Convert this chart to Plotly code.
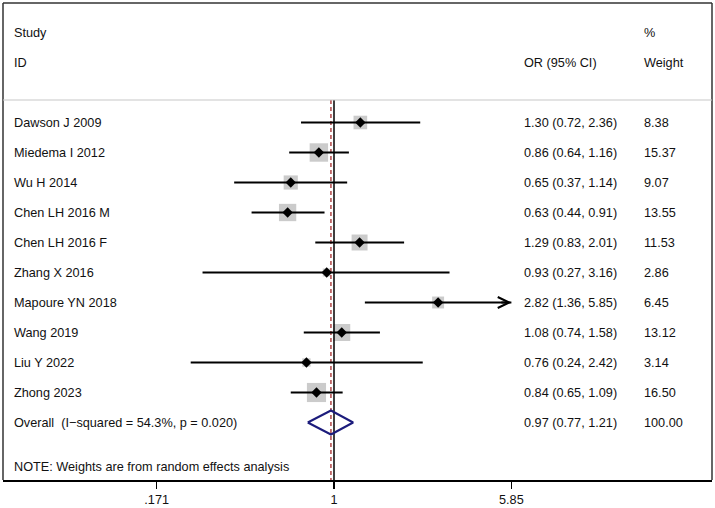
import math
import plotly.graph_objects as go

studies = ["Dawson J 2009", "Miedema I 2012", "Wu H 2014", "Chen LH 2016 M",
           "Chen LH 2016 F", "Zhang X 2016", "Mapoure YN 2018", "Wang 2019",
           "Liu Y 2022", "Zhong 2023"]
or_est = [1.30, 0.86, 0.65, 0.63, 1.29, 0.93, 2.82, 1.08, 0.76, 0.84]
ci_lo = [0.72, 0.64, 0.37, 0.44, 0.83, 0.27, 1.36, 0.74, 0.24, 0.65]
ci_hi = [2.36, 1.16, 1.14, 0.91, 2.01, 3.16, 5.85, 1.58, 2.42, 1.09]
weights = [8.38, 15.37, 9.07, 13.55, 11.53, 2.86, 6.45, 13.12, 3.14, 16.50]
overall = (0.97, 0.77, 1.21)
overall_weight = "100.00"
overall_label = "Overall  (I\u2212squared = 54.3%, p = 0.020)"
note = "NOTE: Weights are from random effects analysis"
tick_vals = [0.171, 1, 5.85]
tick_text = [".171", "1", "5.85"]
axis_max = 5.85

W, H = 715, 508
L, R, T, B = 3, 3, 3, 28
px_per_dec = 231.2
null_px = 334
row0_px, row_h = 122.5, 30

x_lo = (L - null_px) / px_per_dec
x_hi = (W - R - null_px) / px_per_dec
y_top = (T - row0_px) / row_h
y_bot = (H - B - row0_px) / row_h

FONT = "Liberation Sans, Arial, Helvetica, sans-serif"
FS = 12.7
TXT = "#111111"

rows = list(range(len(studies)))
fig = go.Figure()

# weight boxes
fig.add_trace(go.Scatter(
    x=or_est, y=rows, mode="markers",
    marker=dict(symbol="square", size=[4.7 * math.sqrt(w) for w in weights],
                color="#b5b5b5", line=dict(width=0)),
    hoverinfo="skip", showlegend=False))

# null line and overall dashed line
sep_row = (100 - row0_px) / row_h
fig.add_trace(go.Scatter(x=[1, 1], y=[sep_row, y_bot], mode="lines",
                         line=dict(color="#000000", width=1.5),
                         hoverinfo="skip", showlegend=False))
fig.add_trace(go.Scatter(x=[overall[0], overall[0]], y=[sep_row, y_bot], mode="lines",
                         line=dict(color="#a52a2a", width=1.3, dash="4px,3px"),
                         hoverinfo="skip", showlegend=False))

# CI lines
cx, cy = [], []
for i in rows:
    cx += [ci_lo[i], min(ci_hi[i], axis_max), None]
    cy += [i, i, None]
fig.add_trace(go.Scatter(x=cx, y=cy, mode="lines",
                         line=dict(color="#000000", width=2),
                         hoverinfo="skip", showlegend=False))

# point estimates
fig.add_trace(go.Scatter(x=or_est, y=rows, mode="markers",
                         marker=dict(symbol="diamond", size=8, color="#000000"),
                         hoverinfo="skip", showlegend=False))

# overall diamond
orow = len(studies)
hd = 0.4
fig.add_trace(go.Scatter(
    x=[overall[1], overall[0], overall[2], overall[0], overall[1]],
    y=[orow, orow - hd, orow, orow + hd, orow],
    mode="lines", line=dict(color="#1c1c7c", width=2),
    fill="toself", fillcolor="rgba(255,255,255,0)",
    hoverinfo="skip", showlegend=False))

annotations = []

def txt(xpx, row, s):
    annotations.append(dict(x=(xpx - L) / (W - L - R), xref="paper", y=row, yref="y",
                            text=s, showarrow=False, xanchor="left", yanchor="middle",
                            font=dict(family=FONT, size=FS, color=TXT)))

txt(12, -3, "Study")
txt(12, -2, "ID")
txt(522, -2, "OR (95% CI)")
txt(642, -3, "%")
txt(642, -2, "Weight")
for i in rows:
    txt(12, i, studies[i])
    txt(522, i, f"{or_est[i]:.2f} ({ci_lo[i]:.2f}, {ci_hi[i]:.2f})")
    txt(642, i, f"{weights[i]:.2f}")
txt(12, orow, overall_label)
txt(522, orow, f"{overall[0]:.2f} ({overall[1]:.2f}, {overall[2]:.2f})")
txt(642, orow, overall_weight)
txt(12, orow + 1.47, note)

# arrow head for truncated CI
for i in rows:
    if ci_hi[i] >= axis_max:
        annotations.append(dict(
            x=math.log10(axis_max), y=i, xref="x", yref="y",
            ax=math.log10(axis_max) - 0.05, ay=i, axref="x", ayref="y",
            showarrow=True, arrowhead=5, arrowsize=1.1, arrowwidth=2,
            arrowcolor="#000000", text=""))

shapes = [
    dict(type="line", xref="paper", yref="paper", x0=0, x1=0, y0=0, y1=1,
         line=dict(color="#333333", width=1.5)),
    dict(type="line", xref="paper", yref="paper", x0=0, x1=1, y0=1, y1=1,
         line=dict(color="#333333", width=1.5)),
    dict(type="line", xref="paper", yref="paper", x0=1, x1=1, y0=0, y1=1,
         line=dict(color="#333333", width=1.5)),
    dict(type="line", xref="paper", yref="y", x0=0, x1=1, y0=sep_row, y1=sep_row,
         line=dict(color="#c8c8c8", width=1.2)),
]

fig.update_layout(
    width=W, height=H,
    margin=dict(l=L, r=R, t=T, b=B, pad=0, autoexpand=False),
    paper_bgcolor="white", plot_bgcolor="white",
    showlegend=False, hovermode=False, dragmode=False,
    annotations=annotations, shapes=shapes,
    xaxis=dict(type="log", range=[x_lo, x_hi], tickvals=tick_vals, ticktext=tick_text,
               ticks="outside", ticklen=7, tickwidth=1.5, tickcolor="#000000",
               automargin=False,
               showline=True, linecolor="#000000", linewidth=2,
               showgrid=False, zeroline=False, fixedrange=True,
               tickfont=dict(family=FONT, size=FS, color=TXT)),
    yaxis=dict(range=[y_bot, y_top], showgrid=False, zeroline=False, fixedrange=True,
               automargin=False,
               showticklabels=False, showline=False, ticks=""),
)

fig.write_html("out.html", config={"displayModeBar": False, "staticPlot": True},
               post_script="document.body.style.margin='0';document.body.style.padding='0';")
